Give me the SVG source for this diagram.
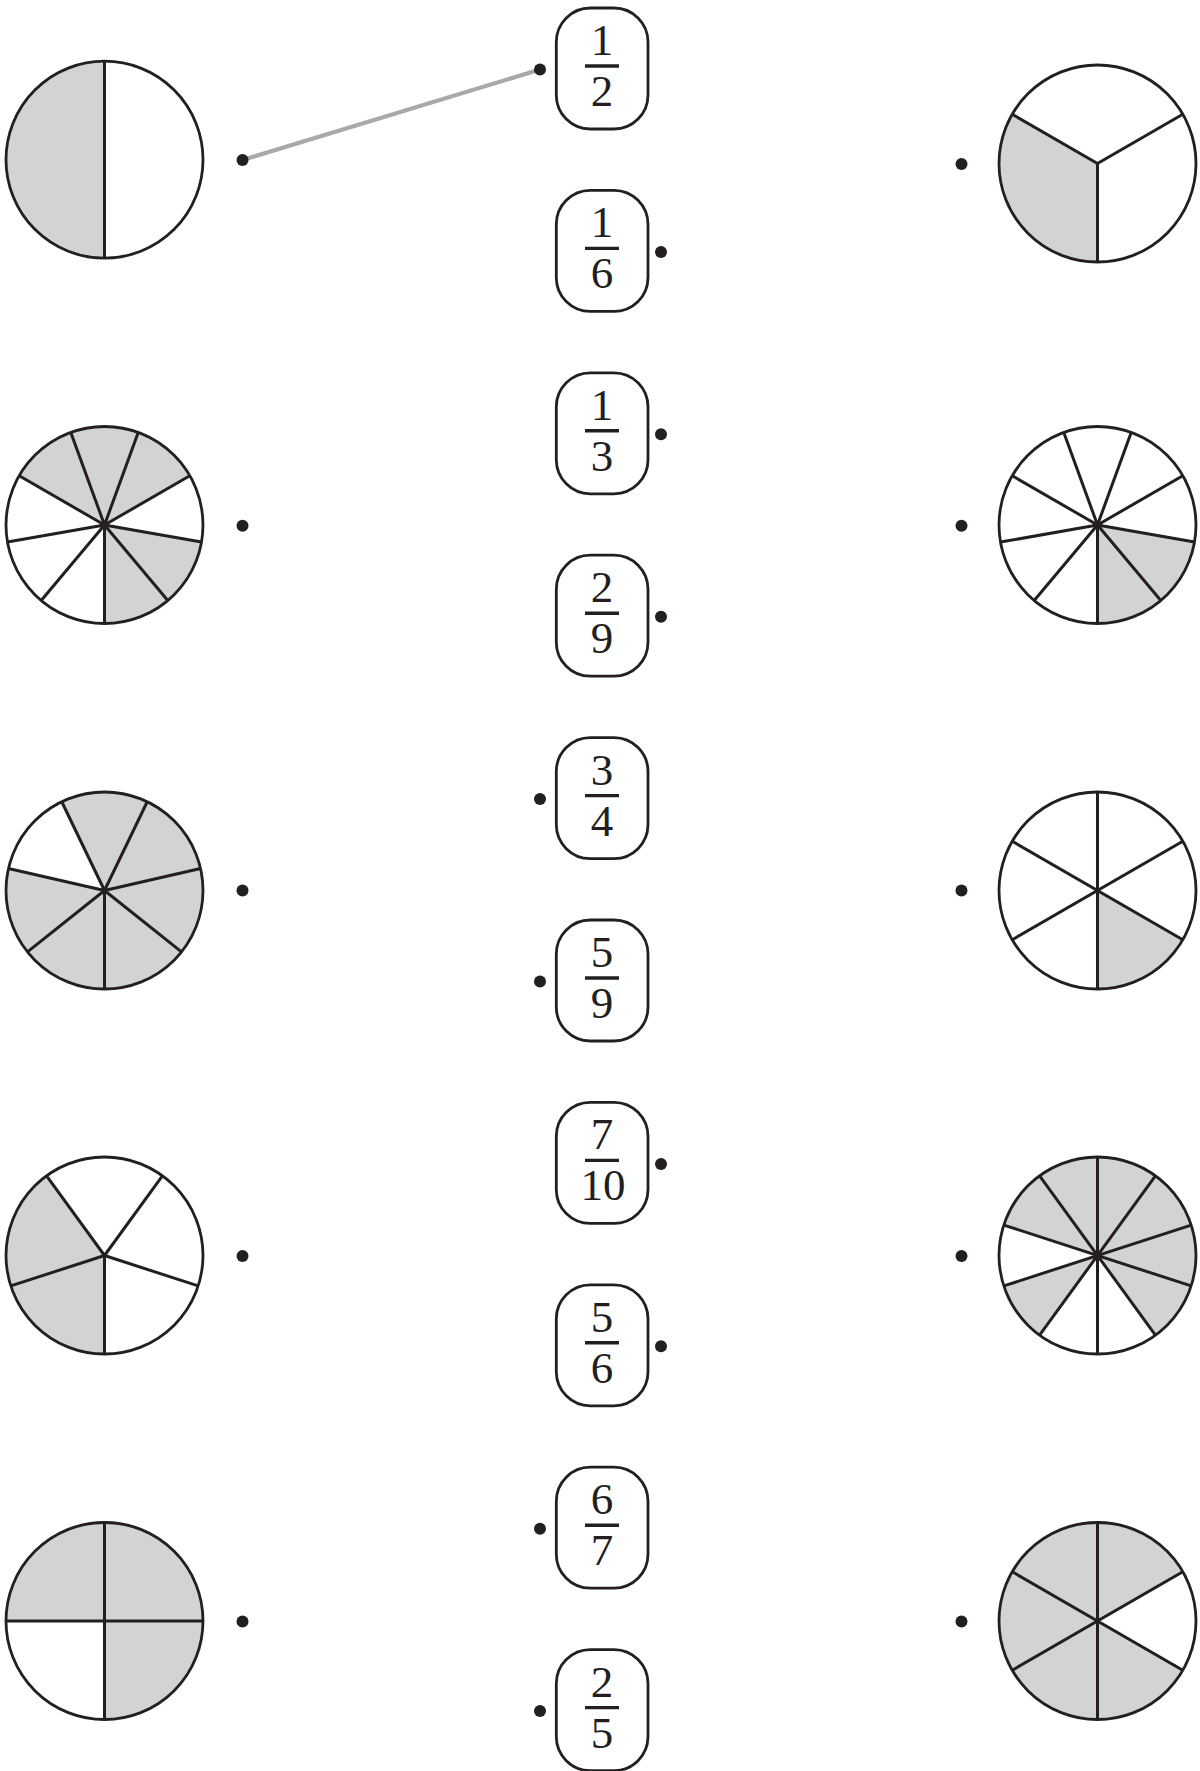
<svg xmlns="http://www.w3.org/2000/svg" width="1200" height="1771" viewBox="0 0 1200 1771">
<style>
.bg{fill:#ffffff;stroke:none}
.g{fill:#d1d3d4;stroke:none}
.w{fill:#ffffff;stroke:none}
.rim{fill:none;stroke:#231f20;stroke-width:2.8}
.sp{stroke:#231f20;stroke-width:3;stroke-linecap:butt;fill:none}
.dot{fill:#231f20}
.box{fill:#ffffff;stroke:#231f20;stroke-width:2.8}
.bar{stroke:#231f20;stroke-width:3.4}
.num{font-family:"Liberation Serif","Times New Roman",serif;font-size:45px;fill:#231f20;text-anchor:middle}
.link{stroke:#a7a9ac;stroke-width:4.2;stroke-linecap:round;fill:none}
</style>
<rect x="0" y="0" width="1200" height="1771" fill="#ffffff"/>

<!-- connectors -->
<g id="connectors">
<line class="link" x1="242.5" y1="160" x2="540" y2="69.5"/>
</g>

<!-- left pies -->
<g id="pie-L1" transform="translate(104.5,159.7)">
<circle class="bg" r="98.5"/>
<path class="g" d="M0,98.5 A98.5,98.5 0 0 1 0,-98.5 Z"/>
<circle class="rim" r="98.5"/>
<line class="sp" x1="0" y1="-98.5" x2="0" y2="98.5"/>
</g>
<circle class="dot" id="dot-L1" cx="242.5" cy="160" r="6"/>

<g id="pie-L2" transform="translate(104.5,525)">
<circle class="bg" r="98.5"/>
<path class="g" d="M0,0 L-85.30,-49.25 A98.5,98.5 0 0 1 85.30,-49.25 Z"/>
<path class="g" d="M0,0 L97.00,17.10 A98.5,98.5 0 0 1 0,98.5 Z"/>
<circle class="rim" r="98.5"/>
<path class="sp" d="M0,0 L97.00,17.10 M0,0 L63.31,75.45 M0,0 L0,98.5 M0,0 L-63.31,75.45 M0,0 L-97.00,17.10 M0,0 L-85.30,-49.25 M0,0 L-33.69,-92.56 M0,0 L33.69,-92.56 M0,0 L85.30,-49.25"/>
</g>
<circle class="dot" id="dot-L2" cx="242.5" cy="525.7" r="6"/>

<g id="pie-L3" transform="translate(104.5,890.5)">
<circle class="g" r="98.5"/>
<path class="w" d="M0,0 L-96.03,-21.92 A98.5,98.5 0 0 1 -42.74,-88.75 Z"/>
<circle class="rim" r="98.5"/>
<path class="sp" d="M0,0 L0,98.5 M0,0 L-77.01,61.41 M0,0 L-96.03,-21.92 M0,0 L-42.74,-88.75 M0,0 L42.74,-88.75 M0,0 L96.03,-21.92 M0,0 L77.01,61.41"/>
</g>
<circle class="dot" id="dot-L3" cx="242.5" cy="890.5" r="6"/>

<g id="pie-L4" transform="translate(104.5,1255.5)">
<circle class="bg" r="98.5"/>
<path class="g" d="M0,0 L0,98.5 A98.5,98.5 0 0 1 -57.90,-79.69 Z"/>
<circle class="rim" r="98.5"/>
<path class="sp" d="M0,0 L93.68,30.44 M0,0 L0,98.5 M0,0 L-93.68,30.44 M0,0 L-57.90,-79.69 M0,0 L57.90,-79.69"/>
</g>
<circle class="dot" id="dot-L4" cx="242.5" cy="1256" r="6"/>

<g id="pie-L5" transform="translate(104.5,1621)">
<circle class="g" r="98.5"/>
<path class="w" d="M0,0 L0,98.5 A98.5,98.5 0 0 1 -98.5,0 Z"/>
<circle class="rim" r="98.5"/>
<path class="sp" d="M0,-98.5 L0,98.5 M-98.5,0 L98.5,0"/>
</g>
<circle class="dot" id="dot-L5" cx="242.5" cy="1621.5" r="6"/>

<!-- right pies -->
<g id="pie-R1" transform="translate(1097.5,163.5)">
<circle class="bg" r="98.5"/>
<path class="g" d="M0,0 L0,98.5 A98.5,98.5 0 0 1 -85.30,-49.25 Z"/>
<circle class="rim" r="98.5"/>
<path class="sp" d="M0,0 L0,98.5 M0,0 L-85.30,-49.25 M0,0 L85.30,-49.25"/>
</g>
<circle class="dot" id="dot-R1" cx="961.5" cy="164" r="6"/>

<g id="pie-R2" transform="translate(1097.5,525)">
<circle class="bg" r="98.5"/>
<path class="g" d="M0,0 L97.00,17.10 A98.5,98.5 0 0 1 0,98.5 Z"/>
<circle class="rim" r="98.5"/>
<path class="sp" d="M0,0 L97.00,17.10 M0,0 L63.31,75.45 M0,0 L0,98.5 M0,0 L-63.31,75.45 M0,0 L-97.00,17.10 M0,0 L-85.30,-49.25 M0,0 L-33.69,-92.56 M0,0 L33.69,-92.56 M0,0 L85.30,-49.25"/>
</g>
<circle class="dot" id="dot-R2" cx="961.5" cy="525.7" r="6"/>

<g id="pie-R3" transform="translate(1097.5,890.5)">
<circle class="bg" r="98.5"/>
<path class="g" d="M0,0 L85.30,49.25 A98.5,98.5 0 0 1 0,98.5 Z"/>
<circle class="rim" r="98.5"/>
<path class="sp" d="M0,-98.5 L0,98.5 M-85.30,-49.25 L85.30,49.25 M-85.30,49.25 L85.30,-49.25"/>
</g>
<circle class="dot" id="dot-R3" cx="961.5" cy="890.5" r="6"/>

<g id="pie-R4" transform="translate(1097.5,1255.5)">
<circle class="g" r="98.5"/>
<path class="w" d="M0,0 L57.90,79.69 A98.5,98.5 0 0 1 -57.90,79.69 Z"/>
<path class="w" d="M0,0 L-93.68,30.44 A98.5,98.5 0 0 1 -93.68,-30.44 Z"/>
<circle class="rim" r="98.5"/>
<path class="sp" d="M-93.68,-30.44 L93.68,30.44 M-57.90,-79.69 L57.90,79.69 M0,-98.5 L0,98.5 M57.90,-79.69 L-57.90,79.69 M93.68,-30.44 L-93.68,30.44"/>
</g>
<circle class="dot" id="dot-R4" cx="961.5" cy="1256" r="6"/>

<g id="pie-R5" transform="translate(1097.5,1621)">
<circle class="g" r="98.5"/>
<path class="w" d="M0,0 L85.30,-49.25 A98.5,98.5 0 0 1 85.30,49.25 Z"/>
<circle class="rim" r="98.5"/>
<path class="sp" d="M0,-98.5 L0,98.5 M-85.30,-49.25 L85.30,49.25 M-85.30,49.25 L85.30,-49.25"/>
</g>
<circle class="dot" id="dot-R5" cx="961.5" cy="1621.5" r="6"/>

<!-- fraction boxes -->
<g id="frac-1-2">
<rect class="box" x="556.3" y="8" width="91.7" height="121" rx="34"/>
<text class="num" x="602" y="55">1</text>
<line class="bar" x1="585" y1="66" x2="619" y2="66"/>
<text class="num" x="602" y="106">2</text>
<circle class="dot" cx="540" cy="69.5" r="6"/>
</g>
<g id="frac-1-6">
<rect class="box" x="556.3" y="190.4" width="91.7" height="121" rx="34"/>
<text class="num" x="602" y="237.4">1</text>
<line class="bar" x1="585" y1="248.4" x2="619" y2="248.4"/>
<text class="num" x="602" y="288.4">6</text>
<circle class="dot" cx="661" cy="251.9" r="6"/>
</g>
<g id="frac-1-3">
<rect class="box" x="556.3" y="372.8" width="91.7" height="121" rx="34"/>
<text class="num" x="602" y="419.8">1</text>
<line class="bar" x1="585" y1="430.8" x2="619" y2="430.8"/>
<text class="num" x="602" y="470.8">3</text>
<circle class="dot" cx="661" cy="434.3" r="6"/>
</g>
<g id="frac-2-9">
<rect class="box" x="556.3" y="555.2" width="91.7" height="121" rx="34"/>
<text class="num" x="602" y="602.2">2</text>
<line class="bar" x1="585" y1="613.2" x2="619" y2="613.2"/>
<text class="num" x="602" y="653.2">9</text>
<circle class="dot" cx="661" cy="616.7" r="6"/>
</g>
<g id="frac-3-4">
<rect class="box" x="556.3" y="737.6" width="91.7" height="121" rx="34"/>
<text class="num" x="602" y="784.6">3</text>
<line class="bar" x1="585" y1="795.6" x2="619" y2="795.6"/>
<text class="num" x="602" y="835.6">4</text>
<circle class="dot" cx="540" cy="799.1" r="6"/>
</g>
<g id="frac-5-9">
<rect class="box" x="556.3" y="920" width="91.7" height="121" rx="34"/>
<text class="num" x="602" y="967">5</text>
<line class="bar" x1="585" y1="978" x2="619" y2="978"/>
<text class="num" x="602" y="1018">9</text>
<circle class="dot" cx="540" cy="981.5" r="6"/>
</g>
<g id="frac-7-10">
<rect class="box" x="556.3" y="1102.4" width="91.7" height="121" rx="34"/>
<text class="num" x="602" y="1149.4">7</text>
<line class="bar" x1="585" y1="1160.4" x2="619" y2="1160.4"/>
<text class="num" x="603" y="1200.4">10</text>
<circle class="dot" cx="661" cy="1163.9" r="6"/>
</g>
<g id="frac-5-6">
<rect class="box" x="556.3" y="1284.8" width="91.7" height="121" rx="34"/>
<text class="num" x="602" y="1331.8">5</text>
<line class="bar" x1="585" y1="1342.8" x2="619" y2="1342.8"/>
<text class="num" x="602" y="1382.8">6</text>
<circle class="dot" cx="661" cy="1346.3" r="6"/>
</g>
<g id="frac-6-7">
<rect class="box" x="556.3" y="1467.2" width="91.7" height="121" rx="34"/>
<text class="num" x="602" y="1514.2">6</text>
<line class="bar" x1="585" y1="1525.2" x2="619" y2="1525.2"/>
<text class="num" x="602" y="1565.2">7</text>
<circle class="dot" cx="540" cy="1528.7" r="6"/>
</g>
<g id="frac-2-5">
<rect class="box" x="556.3" y="1649.6" width="91.7" height="121" rx="34"/>
<text class="num" x="602" y="1696.6">2</text>
<line class="bar" x1="585" y1="1707.6" x2="619" y2="1707.6"/>
<text class="num" x="602" y="1747.6">5</text>
<circle class="dot" cx="540" cy="1711.1" r="6"/>
</g>
</svg>
